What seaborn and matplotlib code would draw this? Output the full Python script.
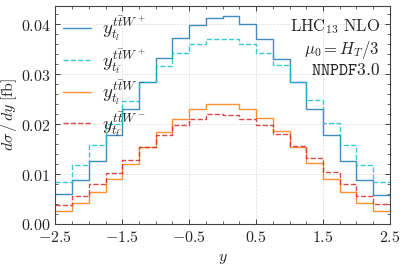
import numpy as np
import pandas as pd
import matplotlib
matplotlib.use('Agg')
import matplotlib.pyplot as plt
import seaborn as sns
from matplotlib.ticker import MultipleLocator, FuncFormatter

# Bin edges in rapidity
edges = np.linspace(-2.5, 2.5, 21)

# Differential cross sections [fb] per bin
ttwp_tl = [0.0059, 0.0088, 0.0127, 0.0179, 0.0231, 0.0285, 0.0333, 0.0373, 0.0399, 0.0413,
           0.0416, 0.0401, 0.0371, 0.0331, 0.0284, 0.0231, 0.0178, 0.0127, 0.0089, 0.0058]
ttwp_ttb = [0.0084, 0.0119, 0.0159, 0.0201, 0.0247, 0.0285, 0.0317, 0.0343, 0.0361, 0.0371,
            0.0371, 0.0361, 0.0343, 0.0319, 0.0285, 0.0248, 0.0203, 0.0159, 0.0119, 0.0084]
ttwm_tl = [0.0026, 0.0041, 0.0063, 0.0090, 0.0121, 0.0155, 0.0185, 0.0211, 0.0230, 0.0241,
           0.0241, 0.0231, 0.0212, 0.0186, 0.0155, 0.0123, 0.0090, 0.0063, 0.0042, 0.0026]
ttwm_ttb = [0.0038, 0.0055, 0.0079, 0.0103, 0.0128, 0.0155, 0.0179, 0.0198, 0.0211, 0.0220,
            0.0218, 0.0211, 0.0199, 0.0181, 0.0157, 0.0133, 0.0104, 0.0080, 0.0055, 0.0039]

labels = [r'$y_{t_l}^{t\bar{t}W^+}$', r'$y_{t_{\bar{t}}}^{t\bar{t}W^+}$',
          r'$y_{t_l}^{t\bar{t}W^-}$', r'$y_{t_{\bar{t}}}^{t\bar{t}W^-}$']
colors = ['#1f77b4', '#17becf', '#ff7f0e', '#d62728']
styles = ['-', '--', '-', '--']

sns.set_style('ticks')
plt.rcParams['mathtext.fontset'] = 'cm'
plt.rcParams['font.family'] = ['DejaVu Serif']

fig = plt.figure(figsize=(4.07, 2.66), dpi=100)
ax = fig.add_axes([0.136, 0.158, 0.822, 0.819])

for vals, lab, col, ls in zip([ttwp_tl, ttwp_ttb, ttwm_tl, ttwm_ttb], labels, colors, styles):
    df = pd.DataFrame({'y': edges, 'v': list(vals) + [vals[-1]]})
    sns.lineplot(data=df, x='y', y='v', ax=ax, drawstyle='steps-post', color=col,
                 linestyle=ls, linewidth=1.0, label=lab, alpha=0.85)

ax.set_xlim(-2.5, 2.5)
ax.set_ylim(0, 0.0436)
ax.set_xticks([-2.5, -1.5, -0.5, 0.5, 1.5, 2.5])
ax.xaxis.set_minor_locator(MultipleLocator(0.25))
ax.yaxis.set_major_locator(MultipleLocator(0.01))
ax.yaxis.set_minor_locator(MultipleLocator(0.002))
ax.xaxis.set_major_formatter(FuncFormatter(lambda v, p: f'${v:.1f}$'))
ax.yaxis.set_major_formatter(FuncFormatter(lambda v, p: f'${v:.2f}$'))
ax.tick_params(which='both', direction='in', top=True, right=True, labelsize=11.5)
ax.tick_params(which='major', length=3.5, width=0.6)
ax.tick_params(which='minor', length=2, width=0.5)
for s in ax.spines.values():
    s.set_linewidth(0.8)
    s.set_color('#444444')
ax.grid(True, which='major', linestyle='--', linewidth=0.5, color='#dddddd')

ax.set_xlabel(r'$y$', fontsize=11.5, labelpad=2)
ax.set_ylabel(r'$d\sigma\,/\,dy\;[\mathrm{fb}]$', fontsize=11.5, labelpad=1)

ax.text(0.97, 0.905, r'$\mathrm{LHC}_{13}\ \mathrm{NLO}$', transform=ax.transAxes,
        ha='right', va='center', fontsize=12)
ax.text(0.97, 0.8, r'$\mu_0 = H_T/3$', transform=ax.transAxes,
        ha='right', va='center', fontsize=12)
ax.text(0.97, 0.705, r'$\mathtt{NNPDF3.0}$', transform=ax.transAxes,
        ha='right', va='center', fontsize=12.5)

ax.legend(loc='upper left', frameon=False, fontsize=13.5, handlelength=1.5,
          labelspacing=0.15, borderaxespad=0.0, bbox_to_anchor=(0.0, 1.0),
          handletextpad=0.6)

fig.savefig('out.png', dpi=100)
